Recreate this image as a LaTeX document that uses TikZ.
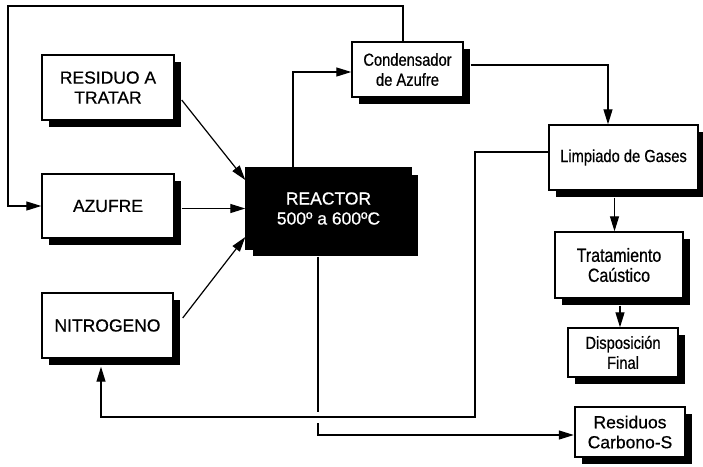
\documentclass[tikz,border=0pt]{standalone}
\usepackage{fontspec}
\setmainfont{Liberation Sans}[FakeBold=0.6]
\newfontfamily\narrowfont{Liberation Sans}[FakeStretch=0.84,FakeBold=0.6]
\usetikzlibrary{arrows.meta,shadows}
\begin{document}
\begin{tikzpicture}[x=1pt,y=-1pt,
 box/.style={draw=black, line width=1.4pt, fill=white, align=center, inner sep=0pt,
   drop shadow={shadow xshift=7pt, shadow yshift=-7pt, fill=black, opacity=1}},
 big/.style={font=\fontsize{17.5}{20}\selectfont},
 narrowtxt/.style={font=\narrowfont\fontsize{17.5}{20}\selectfont},
 arr/.style={line width=1.2pt, -{Triangle[length=15pt,width=9pt]}},
 ln/.style={line width=1.2pt}]
\fill[white] (0,0) rectangle (703,466);
\useasboundingbox (0,0) rectangle (703,466);

\node[box,big,minimum width=132pt,minimum height=65pt] (res) at (108,87.5) {RESIDUO A\\TRATAR};
\node[box,big,minimum width=132pt,minimum height=64pt] (azu) at (108,206) {AZUFRE};
\node[box,big,minimum width=131pt,minimum height=65pt] (nit) at (107.5,325.5) {NITROGENO};
\node[box,big,fill=black,text=white,minimum width=165pt,minimum height=81pt] (reac) at (328.5,208.5) {REACTOR\\500º a 600ºC};
\node[box,narrowtxt,minimum width=111pt,minimum height=55pt] (cond) at (407.5,69.5) {Condensador\\de Azufre};
\node[box,narrowtxt,minimum width=149pt,minimum height=65pt] (limp) at (623.5,157.5) {Limpiado de Gases};
\node[box,font=\narrowfont\fontsize{19}{20}\selectfont,minimum width=128pt,minimum height=66pt] (trat) at (619,265) {Tratamiento\\Caústico};
\node[box,narrowtxt,minimum width=110pt,minimum height=49pt] (disp) at (623,352.5) {Disposición\\Final};
\node[box,big,line width=2.4pt,minimum width=110pt,minimum height=50pt] (resc) at (630,432) {Residuos\\Carbono-S};

\draw[arr] ([xshift=-4.5pt]cond.north) |- (8,6) |- (azu.west);
\draw[arr] ([xshift=7pt,yshift=-12.5pt]res.east) -- ([yshift=28.5pt]reac.west);
\draw[arr] ([xshift=7pt,yshift=-2.5pt]azu.east) -- (reac.west);
\draw[arr] ([xshift=9pt,yshift=7.5pt]nit.east) -- ([yshift=-28.5pt]reac.west);
\draw[arr] ([xshift=-35.5pt]reac.north) |- ([yshift=-2.5pt]cond.west);
\draw[arr] ([xshift=7pt,yshift=4.5pt]cond.east) -| ([xshift=-15.5pt]limp.north);
\draw[arr] ([yshift=5.5pt]limp.west) -- (475,152) -- (475,417) -| ([xshift=-6.5pt,yshift=-8pt]nit.south);
\draw[ln] ([xshift=-10.5pt,yshift=-7pt]reac.south) -- (318,412);
\draw[arr] (318,423) |- ([yshift=-3pt]resc.west);
\draw[arr] ([xshift=-9pt,yshift=-7pt]limp.south) -- ([xshift=-4.5pt]trat.north);
\draw[arr] ([xshift=1pt,yshift=-7pt]trat.south) -- ([xshift=-3pt]disp.north);
\end{tikzpicture}
\end{document}
